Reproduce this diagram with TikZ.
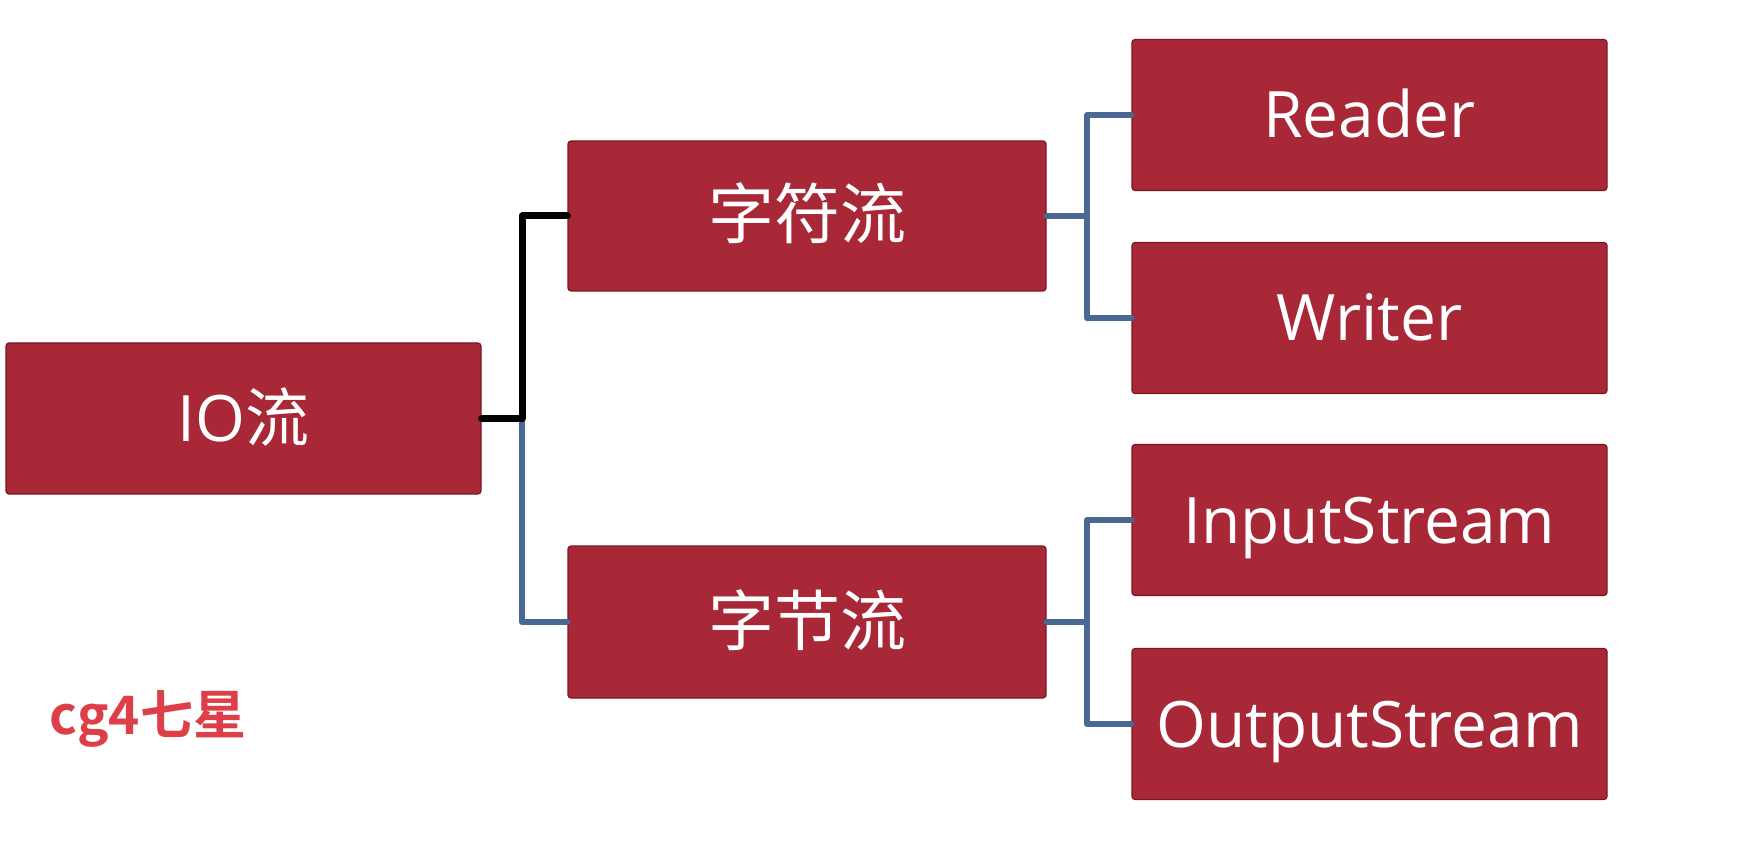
\documentclass[tikz,border=0pt]{standalone}
\usepackage{fontspec}
\setmainfont{Open Sans}
\newfontfamily\cjk[BoldFont={Noto Sans CJK SC Bold}]{Noto Sans CJK SC}
\definecolor{boxfill}{RGB}{168,40,56}
\definecolor{boxline}{RGB}{125,22,36}
\definecolor{linkblue}{RGB}{74,104,148}
\definecolor{marktext}{RGB}{222,62,72}
\begin{document}
\begin{tikzpicture}[x=1pt,y=-1pt,
  redbox/.style={draw=boxline,line width=1.2pt,fill=boxfill,rounded corners=3pt,
    minimum width=475pt,minimum height=151pt,inner sep=0pt,
    text=white,font=\fontsize{64}{64}\selectfont,text height=46pt,text depth=0pt},
  blackline/.style={draw=black,line width=7pt,line cap=round,line join=round},
  blueline/.style={draw=linkblue,line width=6pt,line cap=round,line join=round}]
\useasboundingbox (0,0) rectangle (1750,866);
\node[redbox] (io) at (243.5,418.5) {IO{\cjk 流}};
\node[redbox,minimum width=478pt,minimum height=150pt,font=\fontsize{66}{66}\selectfont] (cf) at (807,216) {\cjk 字符流};
\node[redbox,minimum width=478pt,minimum height=152pt,font=\fontsize{66}{66}\selectfont] (cb) at (807,622) {\cjk 字节流};
\node[redbox] (reader) at (1369.5,115) {Reader};
\node[redbox] (writer) at (1369.5,318) {Writer};
\node[redbox] (input) at (1369.5,520) {InputStream};
\node[redbox] (output) at (1369.5,724) {OutputStream};
\node[text=marktext,font=\cjk\bfseries\fontsize{53}{53}\selectfont,inner sep=0pt] (mark) at (148,719) {cg4七星};
\coordinate (j1) at (522,418.5);
\coordinate (j2) at (1087,216);
\coordinate (j3) at (1087,622);
\draw[blueline] (j1) |- (cb.west);
\draw[blackline] (io.east) -- (j1) |- (cf.west);
\draw[blueline] (cf.east) -- (j2);
\draw[blueline] (j2) |- (reader.west);
\draw[blueline] (j2) |- (writer.west);
\draw[blueline] (cb.east) -- (j3);
\draw[blueline] (j3) |- (input.west);
\draw[blueline] (j3) |- (output.west);
\end{tikzpicture}
\end{document}
